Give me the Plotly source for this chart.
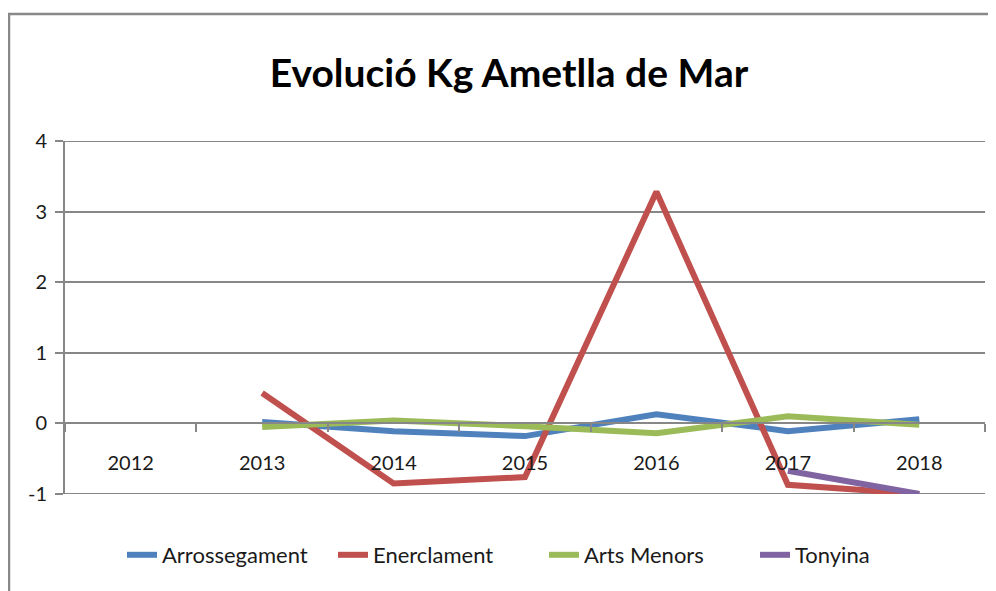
import plotly.graph_objects as go

years = ["2012", "2013", "2014", "2015", "2016", "2017", "2018"]
arrossegament = [None, 0.02, -0.11, -0.18, 0.13, -0.11, 0.06]
enerclament = [None, 0.43, -0.85, -0.76, 3.28, -0.87, -1.0]
arts_menors = [None, -0.05, 0.04, -0.04, -0.14, 0.10, -0.02]
tonyina = [None, None, None, None, None, -0.67, -1.0]
y_ticks = [-1, 0, 1, 2, 3, 4]

series = [
    ("Arrossegament", arrossegament, "#4F81BD"),
    ("Enerclament", enerclament, "#C0504D"),
    ("Arts Menors", arts_menors, "#9BBB59"),
    ("Tonyina", tonyina, "#8064A2"),
]

FONT = "Lato, Roboto, sans-serif"
GRID = "#878787"

fig = go.Figure()
for name, vals, color in series:
    fig.add_trace(go.Scatter(
        x=years, y=vals, name=name, mode="lines",
        line=dict(color=color, width=6), connectgaps=False,
    ))

# page has an 8px body margin: figure coords = screen coords - 8
OFF = 8
W, H = 988, 583
ml, mt = 65 - OFF, 141 - OFF
plot_r, plot_b = 985 - OFF, 494 - OFF
mr, mb = W - plot_r, H - plot_b
pw, ph = W - ml - mr, H - mt - mb

def px_x(p):
    return (p - OFF - ml) / pw

def px_y(p):
    return (plot_b - (p - OFF)) / ph

fig.update_layout(
    width=W, height=H,
    margin=dict(l=ml, r=mr, t=mt, b=mb, autoexpand=False),
    paper_bgcolor="white", plot_bgcolor="white",
    font=dict(family=FONT, size=20, color="#1a1a1a"),
    title=dict(text="<b>Evolució Kg Ametlla de Mar</b>", x=(509 - OFF) / W, xanchor="center",
               y=1 - (73 - OFF) / H, yanchor="middle", yref="container",
               font=dict(family=FONT, size=39, color="black")),
    showlegend=True,
    legend=dict(orientation="h", x=(122 - OFF) / W, xref="container", xanchor="left",
                y=px_y(555), yanchor="middle",
                font=dict(family=FONT, size=22, color="#1a1a1a"),
                entrywidth=166, entrywidthmode="pixels",
                bgcolor="rgba(0,0,0,0)"),
    xaxis=dict(type="category", anchor="free", position=0.2, range=[-0.5, 6.5],
               showline=True, linecolor=GRID, linewidth=2,
               ticks="outside", tickson="boundaries", ticklen=8, tickwidth=2, tickcolor=GRID,
               showgrid=False, zeroline=False, ticklabelstandoff=22, automargin=False,
               tickfont=dict(family=FONT, size=20, color="#1a1a1a")),
    yaxis=dict(range=[-1, 4], tickvals=y_ticks, ticktext=[str(v) for v in y_ticks],
               showline=True, linecolor=GRID, linewidth=2,
               ticks="outside", ticklen=8, tickwidth=2, tickcolor=GRID,
               showgrid=True, gridcolor=GRID, gridwidth=2, zeroline=False,
               ticklabelstandoff=4, automargin=False,
               tickfont=dict(family=FONT, size=20, color="#1a1a1a")),
)

# gridlines at the range edges (plotly omits them)
for v in (y_ticks[0], y_ticks[-1]):
    fig.add_shape(type="line", xref="paper", yref="y", x0=0, x1=1, y0=v, y1=v,
                  line=dict(color=GRID, width=2), layer="below")

fig.add_shape(type="rect", xref="paper", yref="paper",
              x0=px_x(9), x1=px_x(1010), y0=px_y(610), y1=px_y(14),
              line=dict(color="#888888", width=2.5), fillcolor="rgba(0,0,0,0)", layer="below")

fig.write_html("out.html")
